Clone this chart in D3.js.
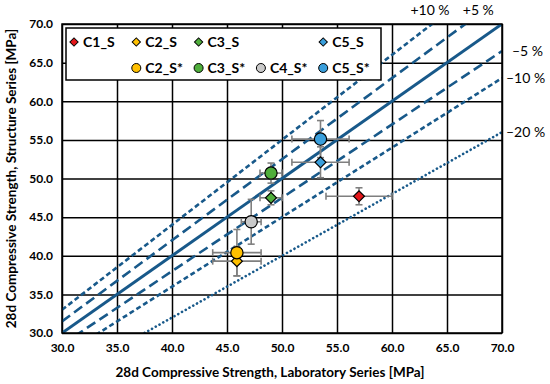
<!DOCTYPE html>
<html lang="en">
  <head>
    <meta charset="utf-8">
    <script type="text/javascript" src="https://d3js.org/d3.v7.min.js"></script>
    <style>
      body { margin: 0; background: #fff; }
      text { font-family: Lato, sans-serif; }
    </style>
  </head>
  <body>
    <div id="chart"></div>
    <script type="text/javascript">

      // series
      const names    = ["C1_S", "C2_S", "C3_S", "C5_S", "C2_S*", "C3_S*", "C4_S*", "C5_S*"];
      const labVals  = [57.0, 45.9, 49.0, 53.5, 45.9, 49.0, 47.2, 53.5];
      const strVals  = [47.7, 39.3, 47.5, 52.1, 40.4, 50.7, 44.4, 55.1];
      const labErr   = [3.0, 2.2, 1.0, 2.6, 2.2, 1.0, 0.9, 2.6];
      const strErr   = [1.1, 1.9, 0.9, 2.0, 3.0, 1.3, 2.9, 2.4];
      const shapes   = ["diamond", "diamond", "diamond", "diamond", "circle", "circle", "circle", "circle"];
      const colors   = ["#e3171b", "#ffc000", "#4fae3b", "#3a9fdc", "#ffc000", "#4fae3b", "#c9c9c9", "#3a9fdc"];

      // reference lines y = f * x
      const factors   = [1.10, 1.05, 1.00, 0.95, 0.90, 0.80];
      const lineLabels = ["+10 %", "+5 %", "", "\u20135 %", "\u201310 %", "\u201320 %"];
      const ticks = [30, 35, 40, 45, 50, 55, 60, 65, 70];

      const margin = {top: 24, right: 48, bottom: 51, left: 62},
          width = 550 - margin.left - margin.right,
          height = 384 - margin.top - margin.bottom;

      const svg = d3.select("#chart")
        .append("svg")
          .attr("width", 550)
          .attr("height", 384)
        .append("g")
          .attr("transform", `translate(${margin.left}, ${margin.top})`);

      const x = d3.scaleLinear().domain([30, 70]).range([0, width]);
      const y = d3.scaleLinear().domain([30, 70]).range([height, 0]);

      // grid
      svg.append("g")
        .call(d3.axisBottom(x).tickValues(ticks).tickSize(height).tickFormat(""))
        .call(g => g.select(".domain").remove())
        .selectAll("line").attr("stroke", "#000").attr("stroke-width", 1.5);
      svg.append("g")
        .call(d3.axisLeft(y).tickValues(ticks).tickSize(-width).tickFormat(""))
        .call(g => g.select(".domain").remove())
        .selectAll("line").attr("stroke", "#000").attr("stroke-width", 1.5);

      // clip for the reference lines
      svg.append("clipPath").attr("id", "clip")
        .append("rect").attr("width", width).attr("height", height);

      const dashes = {1.10: "5,3", 1.05: "10,5", 1.00: null, 0.95: "10,5", 0.90: "5,3", 0.80: "0.1,4.2"};
      svg.append("g").attr("clip-path", "url(#clip)")
        .selectAll("line")
        .data(factors)
        .join("line")
          .attr("x1", x(30)).attr("y1", f => y(30 * f))
          .attr("x2", x(70)).attr("y2", f => y(70 * f))
          .attr("stroke", "#18598a")
          .attr("stroke-width", f => f === 1 ? 3 : 2.6)
          .attr("stroke-linecap", f => f === 0.8 ? "round" : "butt")
          .attr("stroke-dasharray", f => dashes[f]);

      // line labels
      factors.forEach((f, i) => {
        if (!lineLabels[i]) return;
        if (f > 1) {
          svg.append("text")
            .attr("x", x(70 / f) + (f > 1.07 ? -2 : 13))
            .attr("y", -9)
            .attr("text-anchor", "middle")
            .attr("font-size", 14)
            .text(lineLabels[i]);
        } else {
          svg.append("text")
            .attr("x", width + (f === 0.95 ? 10 : 4))
            .attr("y", y(70 * f) + 5)
            .attr("font-size", 14)
            .text(lineLabels[i]);
        }
      });

      // border
      svg.append("rect")
        .attr("width", width).attr("height", height)
        .attr("fill", "none").attr("stroke", "#000").attr("stroke-width", 1.5);

      // axes labels
      svg.append("g")
        .attr("transform", `translate(0, ${height})`)
        .call(d3.axisBottom(x).tickValues(ticks).tickSize(0).tickPadding(10).tickFormat(d3.format(".1f")))
        .call(g => g.select(".domain").remove())
        .selectAll("text")
          .attr("font-family", "Lato, sans-serif")
          .attr("font-size", 12).attr("font-weight", "bold").attr("fill", "#000");
      svg.append("g")
        .call(d3.axisLeft(y).tickValues(ticks).tickSize(0).tickPadding(9).tickFormat(d3.format(".1f")))
        .call(g => g.select(".domain").remove())
        .selectAll("text")
          .attr("font-family", "Lato, sans-serif")
          .attr("font-size", 12).attr("font-weight", "bold").attr("fill", "#000");

      svg.append("text")
        .attr("x", width / 2 - 12).attr("y", height + 44)
        .attr("text-anchor", "middle")
        .attr("font-size", 13.5).attr("font-weight", "bold")
        .text("28d Compressive Strength, Laboratory Series [MPa]");
      svg.append("text")
        .attr("transform", `translate(${-46}, ${height / 2}) rotate(-90)`)
        .attr("text-anchor", "middle")
        .attr("font-size", 13.5).attr("font-weight", "bold")
        .text("28d Compressive Strength, Structure Series [MPa]");

      const data = names.map((n, i) => ({
        name: n, lab: labVals[i], str: strVals[i],
        ex: labErr[i], ey: strErr[i], shape: shapes[i], color: colors[i]
      }));

      // error bars
      const eb = svg.append("g").attr("stroke", "#7f7f7f").attr("stroke-width", 1.6);
      data.forEach(d => {
        eb.append("line").attr("x1", x(d.lab - d.ex)).attr("x2", x(d.lab + d.ex))
          .attr("y1", y(d.str)).attr("y2", y(d.str));
        eb.append("line").attr("x1", x(d.lab)).attr("x2", x(d.lab))
          .attr("y1", y(d.str - d.ey)).attr("y2", y(d.str + d.ey));
        [d.lab - d.ex, d.lab + d.ex].forEach(v => {
          eb.append("line").attr("x1", x(v)).attr("x2", x(v))
            .attr("y1", y(d.str) - 3.5).attr("y2", y(d.str) + 3.5);
        });
        [d.str - d.ey, d.str + d.ey].forEach(v => {
          eb.append("line").attr("y1", y(v)).attr("y2", y(v))
            .attr("x1", x(d.lab) - 3.5).attr("x2", x(d.lab) + 3.5);
        });
      });

      const diamond = d3.symbol().type(d3.symbolSquare).size(60);
      const circle = d3.symbol().type(d3.symbolCircle).size(118);

      // markers
      svg.append("g")
        .selectAll("path")
        .data(data)
        .join("path")
          .attr("d", d => d.shape === "diamond" ? diamond() : circle())
          .attr("transform", d => `translate(${x(d.lab)}, ${y(d.str)})` + (d.shape === "diamond" ? " rotate(45)" : ""))
          .attr("fill", d => d.color)
          .attr("stroke", "#000")
          .attr("stroke-width", 1.2);

      // legend
      const legend = svg.append("g").attr("transform", "translate(4, 4)");
      legend.append("rect")
        .attr("width", 315).attr("height", 52)
        .attr("fill", "#fff").attr("stroke", "#000").attr("stroke-width", 1.5);

      const slot = d => {
        const base = d.name.replace("*", "");
        const col = {"C1_S": 0, "C2_S": 1, "C3_S": 2, "C4_S": 3, "C5_S": 4}[base];
        const row = d.shape === "circle" ? 1 : 0;
        return [8 + col * 62.3, 14 + row * 26];
      };
      const lsDiamond = d3.symbol().type(d3.symbolSquare).size(34);
      const lsCircle = d3.symbol().type(d3.symbolCircle).size(64);
      const items = legend.selectAll("g.item")
        .data(data)
        .join("g")
          .attr("class", "item")
          .attr("transform", d => `translate(${slot(d)[0]}, ${slot(d)[1]})`);
      items.append("path")
        .attr("d", d => d.shape === "diamond" ? lsDiamond() : lsCircle())
        .attr("transform", d => d.shape === "diamond" ? "rotate(45)" : null)
        .attr("fill", d => d.color)
        .attr("stroke", "#000").attr("stroke-width", 1);
      items.append("text")
        .attr("x", 9).attr("y", 5)
        .attr("font-size", 14).attr("font-weight", "bold")
        .text(d => d.name);

    </script>
  </body>
</html>
